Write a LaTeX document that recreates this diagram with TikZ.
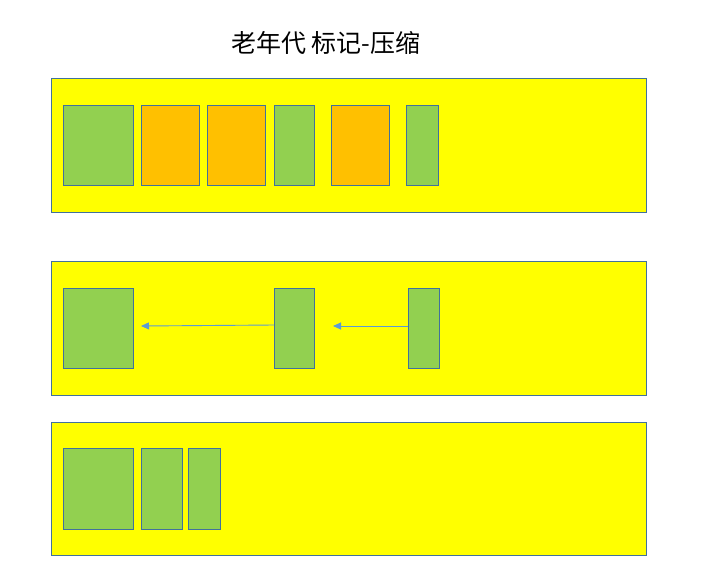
\documentclass[tikz,border=0pt]{standalone}
\usepackage{fontspec}
\newfontfamily\cjk{Noto Sans CJK SC}
\usetikzlibrary{arrows.meta}
\definecolor{ygold}{HTML}{FFFF00}
\definecolor{lgreen}{HTML}{92D050}
\definecolor{gorange}{HTML}{FFC000}
\definecolor{bord}{HTML}{41719C}
\definecolor{arr}{HTML}{5B9BD5}
\tikzset{
  panel/.style={draw=bord, fill=ygold, line width=0.8pt, inner sep=0pt, anchor=north west},
  live/.style={draw=bord, fill=lgreen, line width=0.8pt, inner sep=0pt, anchor=north west},
  dead/.style={draw=bord, fill=gorange, line width=0.8pt, inner sep=0pt, anchor=north west},
  moveto/.style={draw=arr, line width=0.9pt, -{Triangle[length=8pt,width=7pt]}},
}
\newcommand{\blk}[6]{\node[#1, minimum width=#4pt, minimum height=#5pt] (#6) at (#2,#3) {};}
\begin{document}
\begin{tikzpicture}[x=1pt,y=-1pt]
\useasboundingbox (0,0) rectangle (723,582);
\node[font=\cjk\fontsize{25}{28}\selectfont] (title) at (326,43) {老年代 标记-压缩};
% row 1
\blk{panel}{51}{78}{595}{134}{p1}
\blk{live}{63}{105}{70}{80}{a1}
\blk{dead}{141}{105}{58}{80}{a2}
\blk{dead}{207}{105}{58}{80}{a3}
\blk{live}{274}{105}{40}{80}{a4}
\blk{dead}{331}{105}{58}{80}{a5}
\blk{live}{406}{105}{32}{80}{a6}
% row 2
\blk{panel}{51}{261}{595}{134}{p2}
\blk{live}{63}{288}{70}{80}{b1}
\blk{live}{274}{288}{40}{80}{b2}
\blk{live}{408}{288}{31}{80}{b3}
\coordinate (t1) at (141,326);
\coordinate (t2) at (333,326);
\draw[moveto] (b2.west |- 0,325) -- (t1);
\draw[moveto] (b3.west |- 0,326) -- (t2);
% row 3
\blk{panel}{51}{422}{595}{133}{p3}
\blk{live}{63}{448}{70}{81}{c1}
\blk{live}{141}{448}{41}{81}{c2}
\blk{live}{188}{448}{32}{81}{c3}
\end{tikzpicture}
\end{document}
